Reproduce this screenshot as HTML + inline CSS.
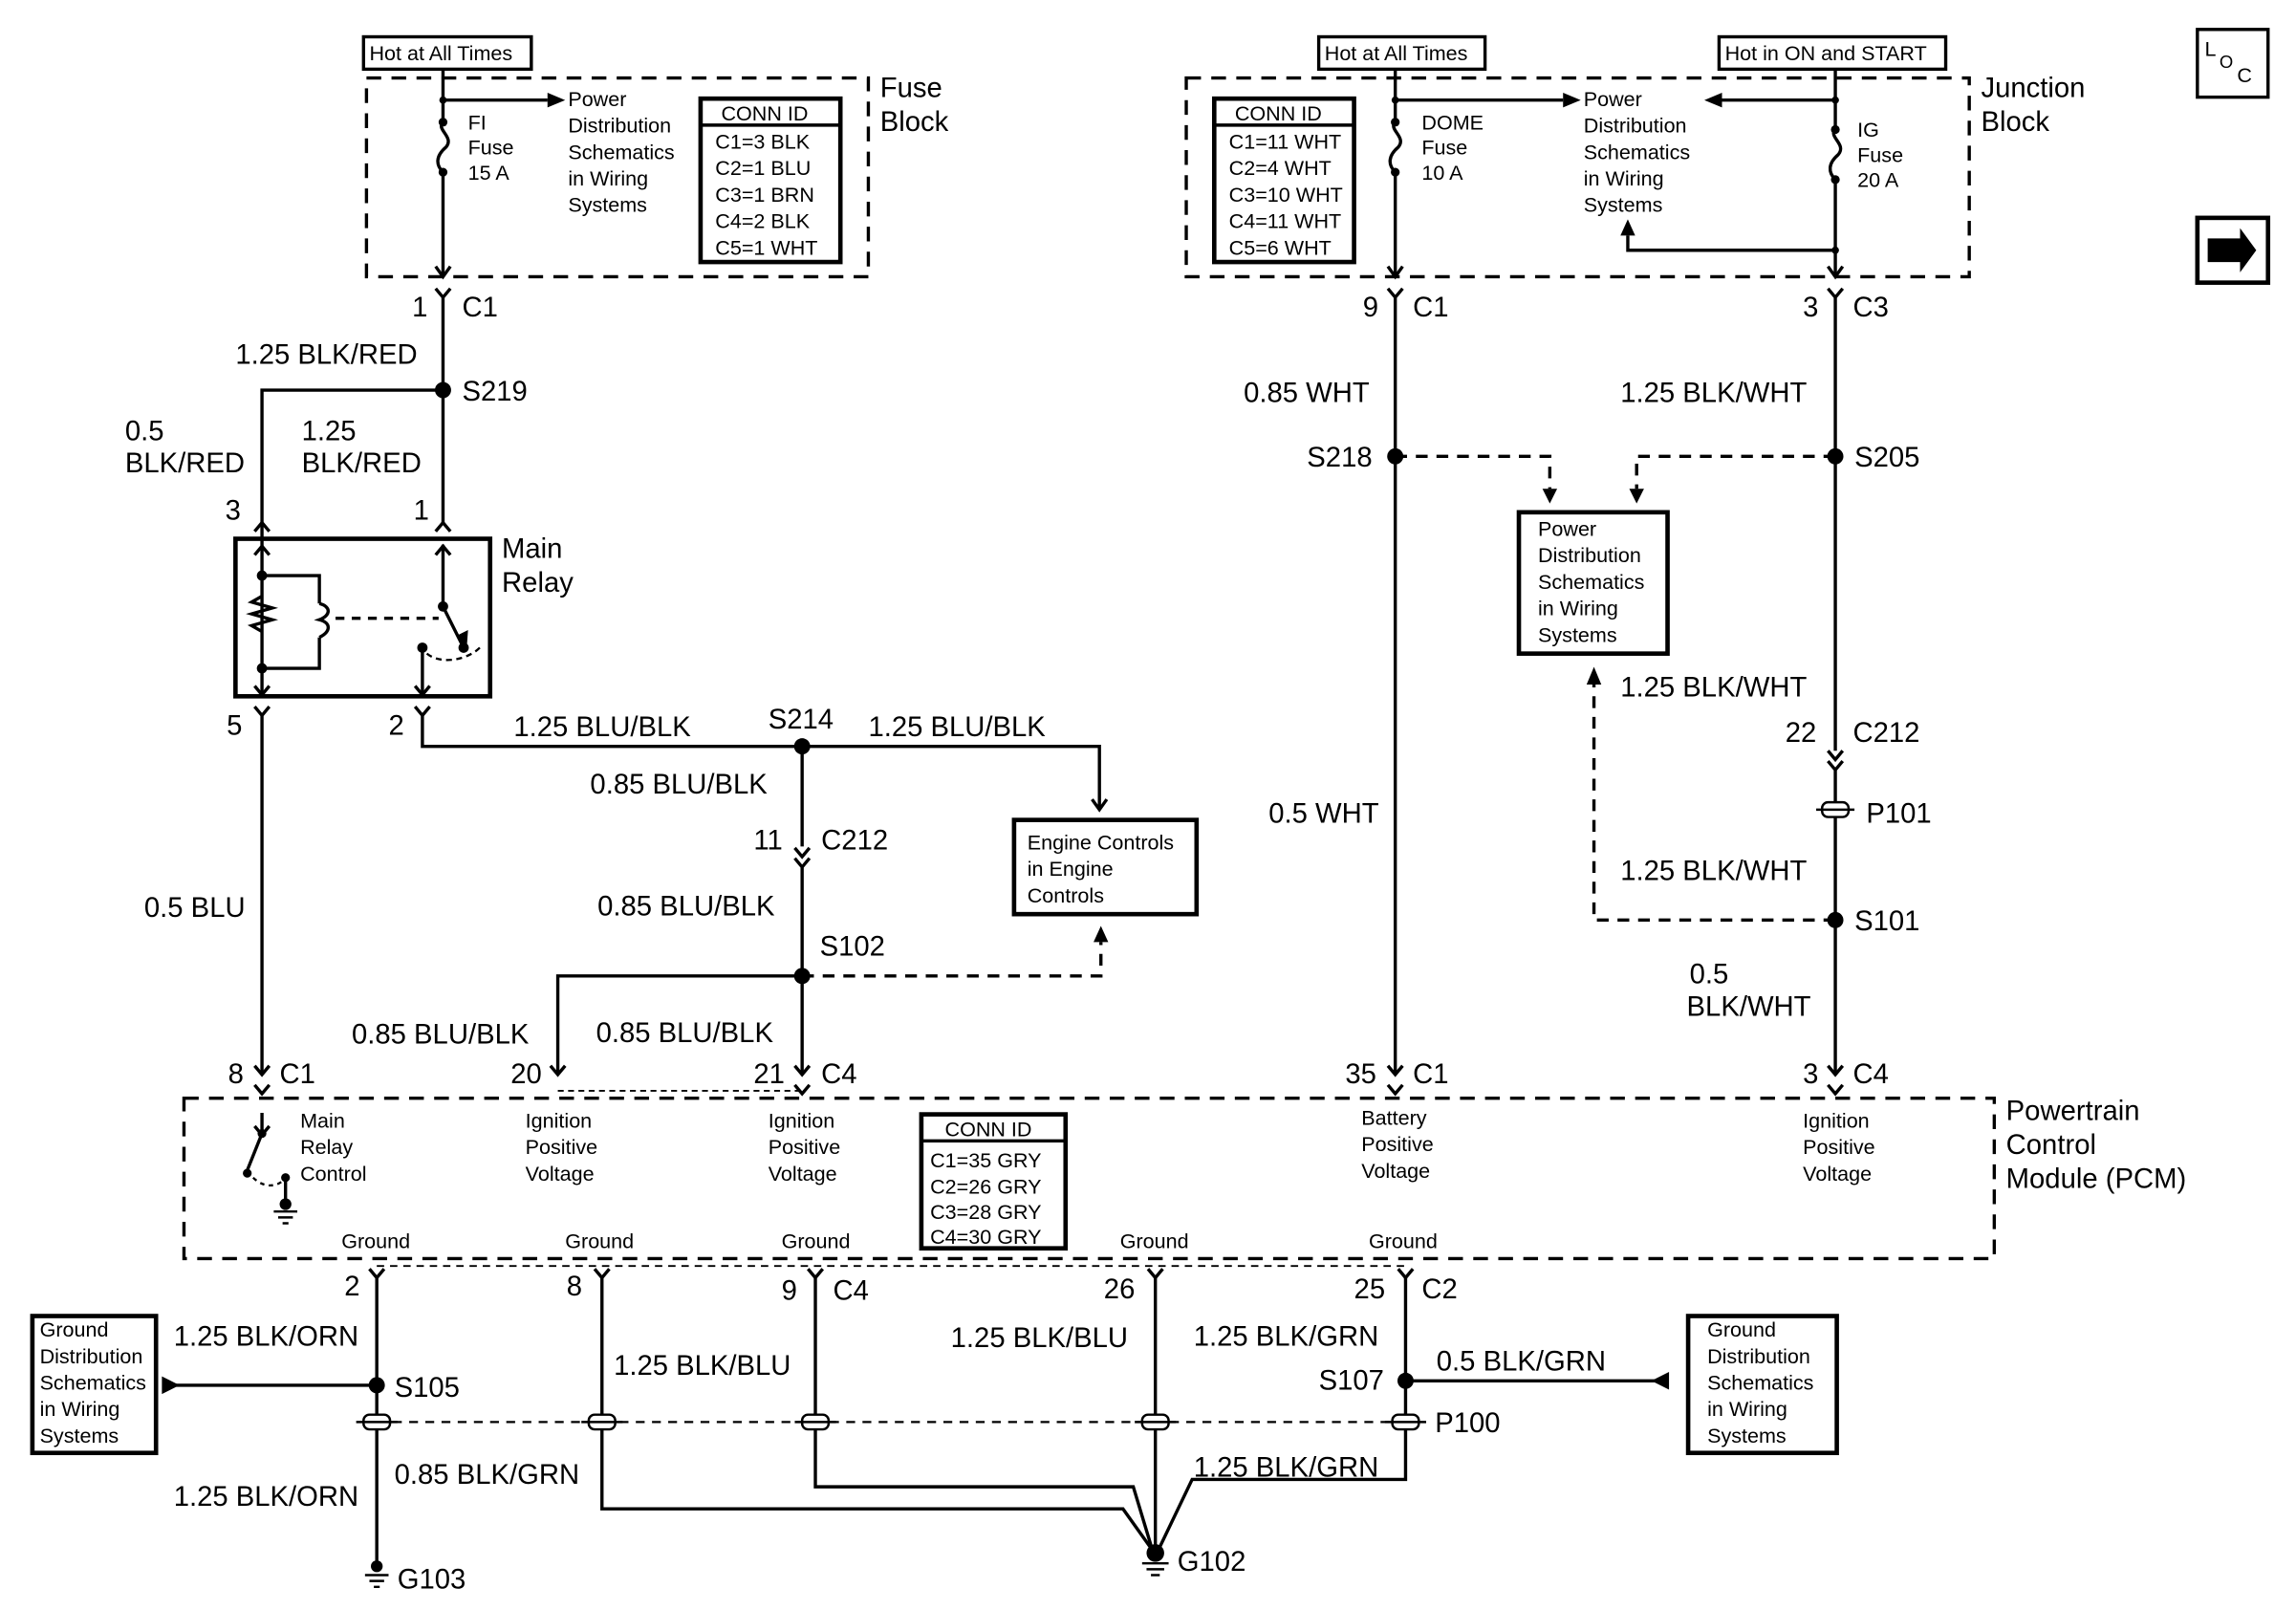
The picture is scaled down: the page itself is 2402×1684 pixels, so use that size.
<!DOCTYPE html>
<html><head><meta charset="utf-8"><style>
html,body{margin:0;padding:0;background:#fff;}
svg{display:block;}
text{font-family:"Liberation Sans",Arial,sans-serif;fill:#000;}
.w{font-size:19px;}
.s{font-size:14px;}
.m{font-size:19px;}
</style></head><body>
<svg width="2402" height="1684" viewBox="0 0 1560 1093.7" preserveAspectRatio="none" xmlns="http://www.w3.org/2000/svg">
<rect x="0" y="0" width="1560" height="1094" fill="#fff"/>
<g stroke="#000" stroke-width="2.2" fill="none">
<rect x="247" y="25" width="114" height="22"/>
<rect x="249" y="53" width="341" height="135" stroke-dasharray="10,7"/>
<rect x="476" y="67" width="95" height="111" stroke-width="3"/>
<line x1="476" y1="85" x2="571" y2="85"/>
<path d="M301 47 V83 M301 117 V188"/>
<path d="M301 83 C296 88 309 93 303 100 C296 106 296 112 301 117"/>
<path d="M301 68 H372"/>
<path d="M296 181 L301 188 L306 181"/>
<rect x="896" y="25" width="113" height="22"/>
<rect x="1168" y="25" width="154" height="22"/>
<rect x="806" y="53" width="532" height="135" stroke-dasharray="10,7"/>
<rect x="825" y="67" width="95" height="111" stroke-width="3"/>
<line x1="825" y1="85" x2="920" y2="85"/>
<path d="M948 47 V83 M948 117 V188"/>
<path d="M948 83 C943 88 956 93 950 100 C943 106 943 112 948 117"/>
<path d="M948 68 H1062"/>
<path d="M943 181 L948 188 L953 181"/>
<path d="M1247 47 V88 M1247 122 V188"/>
<path d="M1247 88 C1242 93 1255 98 1249 105 C1242 111 1242 117 1247 122"/>
<path d="M1247 68 H1170"/>
<path d="M1247 170 H1106 V160"/>
<path d="M1242 181 L1247 188 L1252 181"/>
<rect x="1493" y="20" width="48" height="46"/>
<rect x="1493" y="148" width="48" height="44" stroke-width="3"/>
<path d="M296 196 L301 202 L306 196 M301 202 V355"/>
<path d="M301 265 H178 V355"/>
<path d="M173 361 L178 355 L183 361 M296 361 L301 355 L306 361"/>
<rect x="160" y="366" width="173" height="107" stroke-width="3"/>
<path d="M178 355 V473 M287 473 V440"/>
<path d="M173 377 L178 371 L183 377 M173 466 L178 472 L183 466"/>
<path d="M178 391 H217 V410 M178 454 H217 V433"/>
<path d="M178 405 L171 409 L185 413 L171 417 L185 421 L171 425 L178 429"/>
<path d="M217 410 C225 412 225 418 217 421 C225 423 225 429 217 433"/>
<path d="M228 420 H298" stroke-dasharray="6,5"/>
<path d="M301 370 V412 L315 440"/>
<path d="M296 377 L301 371 L306 377"/>
<path d="M282 466 L287 472 L292 466"/>
<path d="M290 444 C300 452 318 448 326 440" stroke-dasharray="4,3" stroke-width="1.5"/>
<path d="M173 480 L178 486 L183 480 M178 486 V730"/>
<path d="M282 480 L287 486 L292 480 M287 486 V507 H747 V550"/>
<path d="M742 543 L747 550 L752 543"/>
<rect x="689" y="557" width="124" height="64" stroke-width="3"/>
<path d="M545 507 V575"/>
<path d="M540 576 L545 582 L550 576 M540 583 L545 589 L550 583 M545 589 V730"/>
<path d="M545 663 H748 V640" stroke-dasharray="8,6"/>
<path d="M545 663 H379 V730"/>
<path d="M173 724 L178 730 L183 724 M374 724 L379 730 L384 724 M540 724 L545 730 L550 724"/>
<path d="M379 741 H545" stroke-dasharray="4,3" stroke-width="1.2"/>
<path d="M173 737 L178 743 L183 737 M540 737 L545 743 L550 737"/>
<path d="M943 196 L948 202 L953 196 M948 202 V730"/>
<path d="M1242 196 L1247 202 L1252 196 M1247 202 V510"/>
<path d="M948 310 H1053 V332" stroke-dasharray="8,6"/>
<path d="M1247 310 H1112 V332" stroke-dasharray="8,6"/>
<rect x="1032" y="348" width="101" height="96" stroke-width="3"/>
<path d="M1242 510 L1247 516 L1252 510 M1242 517 L1247 523 L1252 517 M1247 523 V730"/>
<path d="M1247 625 H1083 V465" stroke-dasharray="8,6"/>
<path d="M943 724 L948 730 L953 724 M1242 724 L1247 730 L1252 724"/>
<path d="M943 737 L948 743 L953 737 M1242 737 L1247 743 L1252 737"/>
<rect x="125" y="746" width="1230" height="109" stroke-dasharray="10,7"/>
<rect x="626" y="757" width="98" height="91" stroke-width="3"/>
<line x1="626" y1="775" x2="724" y2="775"/>
<path d="M178 756 V770 L168 795"/>
<path d="M173 765 L178 771 L183 765"/>
<path d="M172 800 C180 808 190 806 194 800" stroke-dasharray="3,3" stroke-width="1.5"/>
<path d="M194 800 V818"/>
<path d="M256 860 H955" stroke-dasharray="5,4" stroke-width="1.2"/>
<path d="M251 862 L256 868 L261 862 M404 862 L409 868 L414 862 M549 862 L554 868 L559 862 M780 862 L785 868 L790 862 M950 862 L955 868 L960 862"/>
<path d="M256 868 V1062"/>
<path d="M256 941 H118"/>
<rect x="22" y="894" width="84" height="93" stroke-width="3"/>
<path d="M409 868 V1025 H763 L783 1053"/>
<path d="M554 868 V1010 H770 L783 1053"/>
<path d="M785 868 V1053"/>
<path d="M955 868 V1005 H810 L787 1053"/>
<path d="M955 938 H1128"/>
<rect x="1147" y="894" width="101" height="93" stroke-width="3"/>
<path d="M256 966 H955" stroke-dasharray="6,5" stroke-width="1.5"/>
</g>
<g fill="#000" stroke="none">
<polygon points="372,63 384,68 372,73"/>
<polygon points="1062,63 1074,68 1062,73"/>
<polygon points="1170,63 1158,68 1170,73"/>
<polygon points="1101,160 1106,149 1111,160"/>
<polygon points="1048,332 1053,342 1058,332"/>
<polygon points="1107,332 1112,342 1117,332"/>
<polygon points="1078,465 1083,453 1088,465"/>
<polygon points="743,640 748,629 753,640"/>
<polygon points="110,935 110,947 122,941"/>
<polygon points="1134,932 1134,944 1122,938"/>
<polygon points="1500,162 1522,162 1522,155 1533,170 1522,185 1522,178 1500,178"/>
<circle cx="301" cy="68" r="2.5"/><circle cx="301" cy="83" r="3"/><circle cx="301" cy="117" r="3"/>
<circle cx="948" cy="68" r="2.5"/><circle cx="948" cy="83" r="3"/><circle cx="948" cy="117" r="3"/>
<circle cx="1247" cy="68" r="2.5"/><circle cx="1247" cy="88" r="3"/><circle cx="1247" cy="122" r="3"/><circle cx="1247" cy="170" r="2.5"/>
<circle cx="301" cy="265" r="5.5"/>
<circle cx="545" cy="507" r="5.5"/>
<circle cx="545" cy="663" r="5.5"/>
<circle cx="948" cy="310" r="5.5"/>
<circle cx="1247" cy="310" r="5.5"/>
<circle cx="1247" cy="625" r="5.5"/>
<circle cx="256" cy="941" r="5.5"/>
<circle cx="955" cy="938" r="5.5"/>
<circle cx="178" cy="391" r="3.5"/><circle cx="178" cy="454" r="3.5"/>
<circle cx="301" cy="412" r="3.5"/><circle cx="315" cy="440" r="3.5"/><circle cx="287" cy="440" r="3.5"/>
<circle cx="178" cy="770" r="3"/><circle cx="168" cy="797" r="3"/><circle cx="194" cy="800" r="3"/>
<circle cx="194" cy="818" r="4"/>
<circle cx="785" cy="1055" r="6"/>
<circle cx="256" cy="1064" r="4"/>
<polygon points="310,432 317,442 318,428"/>
</g>
<g stroke="#000" stroke-width="1.6">
<path d="M186 823 H202 M189 827 H199 M192 831 H196"/>
<path d="M776 1062 H794 M779 1066 H791 M782 1070 H788"/>
<path d="M248 1070 H264 M251 1074 H261 M254 1078 H258"/>
</g>
<g stroke="#000" stroke-width="1.6" fill="#fff">
<rect x="1238" y="545" width="18" height="10" rx="4"/>
<rect x="247" y="961" width="18" height="10" rx="4"/>
<rect x="400" y="961" width="18" height="10" rx="4"/>
<rect x="545" y="961" width="18" height="10" rx="4"/>
<rect x="776" y="961" width="18" height="10" rx="4"/>
<rect x="946" y="961" width="18" height="10" rx="4"/>
</g>
<g stroke="#000" stroke-width="1.6">
<path d="M1234 550 H1260 M242 966 H270 M395 966 H423 M540 966 H568 M771 966 H799 M941 966 H969"/>
</g>
<g class="s">
<text x="251" y="41">Hot at All Times</text>
<text x="900" y="41">Hot at All Times</text>
<text x="1172" y="41">Hot in ON and START</text>
<text x="386" y="72">Power</text><text x="386" y="90">Distribution</text><text x="386" y="108">Schematics</text><text x="386" y="126">in Wiring</text><text x="386" y="144">Systems</text>
<text x="318" y="88">FI</text><text x="318" y="105">Fuse</text><text x="318" y="122">15 A</text>
<text x="490" y="82">CONN ID</text>
<text x="486" y="101">C1=3 BLK</text><text x="486" y="119">C2=1 BLU</text><text x="486" y="137">C3=1 BRN</text><text x="486" y="155">C4=2 BLK</text><text x="486" y="173">C5=1 WHT</text>
<text x="839" y="82">CONN ID</text>
<text x="835" y="101">C1=11 WHT</text><text x="835" y="119">C2=4 WHT</text><text x="835" y="137">C3=10 WHT</text><text x="835" y="155">C4=11 WHT</text><text x="835" y="173">C5=6 WHT</text>
<text x="966" y="88">DOME</text><text x="966" y="105">Fuse</text><text x="966" y="122">10 A</text>
<text x="1076" y="72">Power</text><text x="1076" y="90">Distribution</text><text x="1076" y="108">Schematics</text><text x="1076" y="126">in Wiring</text><text x="1076" y="144">Systems</text>
<text x="1262" y="93">IG</text><text x="1262" y="110">Fuse</text><text x="1262" y="127">20 A</text>
<text x="1045" y="364">Power</text><text x="1045" y="382">Distribution</text><text x="1045" y="400">Schematics</text><text x="1045" y="418">in Wiring</text><text x="1045" y="436">Systems</text>
<text x="698" y="577">Engine Controls</text><text x="698" y="595">in Engine</text><text x="698" y="613">Controls</text>
<text x="204" y="766">Main</text><text x="204" y="784">Relay</text><text x="204" y="802">Control</text>
<text x="357" y="766">Ignition</text><text x="357" y="784">Positive</text><text x="357" y="802">Voltage</text>
<text x="522" y="766">Ignition</text><text x="522" y="784">Positive</text><text x="522" y="802">Voltage</text>
<text x="925" y="764">Battery</text><text x="925" y="782">Positive</text><text x="925" y="800">Voltage</text>
<text x="1225" y="766">Ignition</text><text x="1225" y="784">Positive</text><text x="1225" y="802">Voltage</text>
<text x="642" y="772">CONN ID</text>
<text x="632" y="793">C1=35 GRY</text><text x="632" y="811">C2=26 GRY</text><text x="632" y="828">C3=28 GRY</text><text x="632" y="845">C4=30 GRY</text>
<text x="232" y="848">Ground</text><text x="384" y="848">Ground</text><text x="531" y="848">Ground</text><text x="761" y="848">Ground</text><text x="930" y="848">Ground</text>
<text x="27" y="908">Ground</text><text x="27" y="926">Distribution</text><text x="27" y="944">Schematics</text><text x="27" y="962">in Wiring</text><text x="27" y="980">Systems</text>
<text x="1160" y="908">Ground</text><text x="1160" y="926">Distribution</text><text x="1160" y="944">Schematics</text><text x="1160" y="962">in Wiring</text><text x="1160" y="980">Systems</text>
<text x="1498" y="38">L</text><text x="1508" y="46" font-size="12">O</text><text x="1520" y="56">C</text>
</g>
<g class="m">
<text x="598" y="66">Fuse</text><text x="598" y="89">Block</text>
<text x="1346" y="66">Junction</text><text x="1346" y="89">Block</text>
<text x="341" y="379">Main</text><text x="341" y="402">Relay</text>
<text x="1363" y="761">Powertrain</text><text x="1363" y="784">Control</text><text x="1363" y="807">Module (PCM)</text>
</g>
<g class="w">
<text x="280" y="215">1</text><text x="314" y="215">C1</text>
<text x="160" y="247">1.25 BLK/RED</text>
<text x="314" y="272">S219</text>
<text x="85" y="299">0.5</text><text x="85" y="321">BLK/RED</text>
<text x="205" y="299">1.25</text><text x="205" y="321">BLK/RED</text>
<text x="153" y="353">3</text><text x="281" y="353">1</text>
<text x="154" y="499">5</text><text x="264" y="499">2</text>
<text x="349" y="500">1.25 BLU/BLK</text>
<text x="522" y="495">S214</text>
<text x="590" y="500">1.25 BLU/BLK</text>
<text x="401" y="539">0.85 BLU/BLK</text>
<text x="512" y="577">11</text><text x="558" y="577">C212</text>
<text x="98" y="623">0.5 BLU</text>
<text x="406" y="622">0.85 BLU/BLK</text>
<text x="557" y="649">S102</text>
<text x="239" y="709">0.85 BLU/BLK</text>
<text x="405" y="708">0.85 BLU/BLK</text>
<text x="155" y="736">8</text><text x="190" y="736">C1</text>
<text x="347" y="736">20</text><text x="512" y="736">21</text><text x="558" y="736">C4</text>
<text x="926" y="215">9</text><text x="960" y="215">C1</text>
<text x="1225" y="215">3</text><text x="1259" y="215">C3</text>
<text x="845" y="273">0.85 WHT</text>
<text x="1101" y="273">1.25 BLK/WHT</text>
<text x="888" y="317">S218</text>
<text x="1260" y="317">S205</text>
<text x="1101" y="473">1.25 BLK/WHT</text>
<text x="1213" y="504">22</text><text x="1259" y="504">C212</text>
<text x="862" y="559">0.5 WHT</text>
<text x="1268" y="559">P101</text>
<text x="1101" y="598">1.25 BLK/WHT</text>
<text x="1260" y="632">S101</text>
<text x="1148" y="668">0.5</text><text x="1146" y="690">BLK/WHT</text>
<text x="914" y="736">35</text><text x="960" y="736">C1</text>
<text x="1225" y="736">3</text><text x="1259" y="736">C4</text>
<text x="234" y="880">2</text><text x="385" y="880">8</text><text x="531" y="883">9</text><text x="566" y="883">C4</text>
<text x="750" y="882">26</text><text x="920" y="882">25</text><text x="966" y="882">C2</text>
<text x="118" y="914">1.25 BLK/ORN</text>
<text x="268" y="949">S105</text>
<text x="118" y="1023">1.25 BLK/ORN</text>
<text x="268" y="1008">0.85 BLK/GRN</text>
<text x="417" y="934">1.25 BLK/BLU</text>
<text x="646" y="915">1.25 BLK/BLU</text>
<text x="811" y="914">1.25 BLK/GRN</text>
<text x="976" y="931">0.5 BLK/GRN</text>
<text x="896" y="944">S107</text>
<text x="975" y="973">P100</text>
<text x="811" y="1003">1.25 BLK/GRN</text>
<text x="800" y="1067">G102</text>
<text x="270" y="1079">G103</text>
</g>
</svg>
</body></html>
